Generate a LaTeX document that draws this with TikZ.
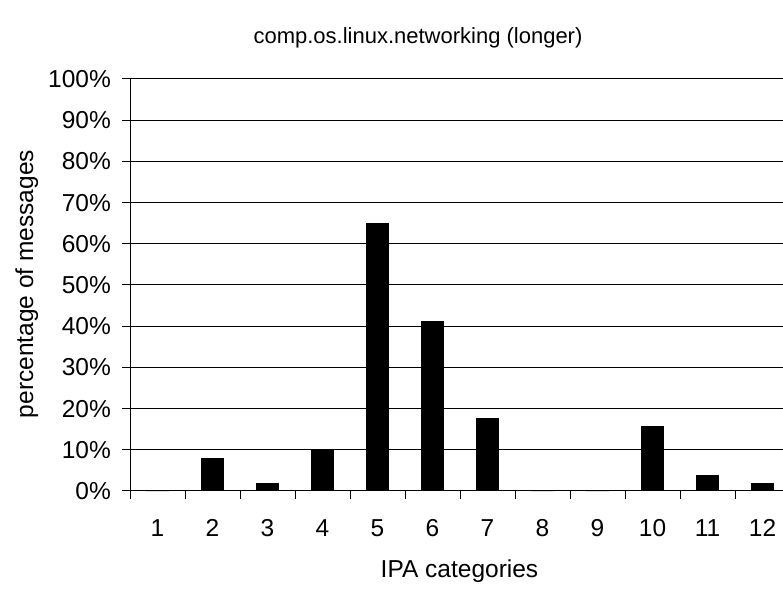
\documentclass[tikz,border=0pt]{standalone}
\usepackage{fontspec}
\setmainfont{Liberation Sans}
\usetikzlibrary{calc}

\begin{document}
\begin{tikzpicture}[x=1pt,y=1pt]

        \tikzstyle{every node}=[font=\fontsize{24.5}{28}\selectfont,inner sep=0pt]
        \tikzstyle{grid line}=[line width=1pt,black]
        \tikzstyle{bar}=[fill=black]

        \useasboundingbox (0,0) rectangle (783,588);

        \coordinate (origin) at (130,97);

        \foreach \p in {0,10,...,100} {
            \draw[grid line] (122,97+\p*4.12) -- (790,97+\p*4.12);
            \node[anchor=east] (y_\p) at (111,97+\p*4.12) {\p\%};
        }

        \draw[grid line] (origin) -- (130,509);

        \foreach \k in {0,...,12} {
            \draw[grid line] (130+\k*55,97) -- (130+\k*55,89);
        }

        \foreach \i / \v in {1/0,2/7.9,3/2,4/10,5/65,6/41.3,7/17.6,8/0,9/0,10/15.8,11/3.9,12/2} {
            \fill[bar] (130+\i*55-27.5-11.5,97) rectangle (130+\i*55-27.5+11.5,97+\v*4.12);
            \node[anchor=base] (c_\i) at (130+\i*55-27.5,51) {\i};
        }

        \node[anchor=base] (xlabel) at (459.5,10) {IPA categories};
        \node[anchor=base,rotate=90] (ylabel) at (33,304) {percentage of messages};
        \node[anchor=base,font=\fontsize{22}{26}\selectfont] (title) at (418,544) {comp.os.linux.networking (longer)};

    \end{tikzpicture}
\end{document}
